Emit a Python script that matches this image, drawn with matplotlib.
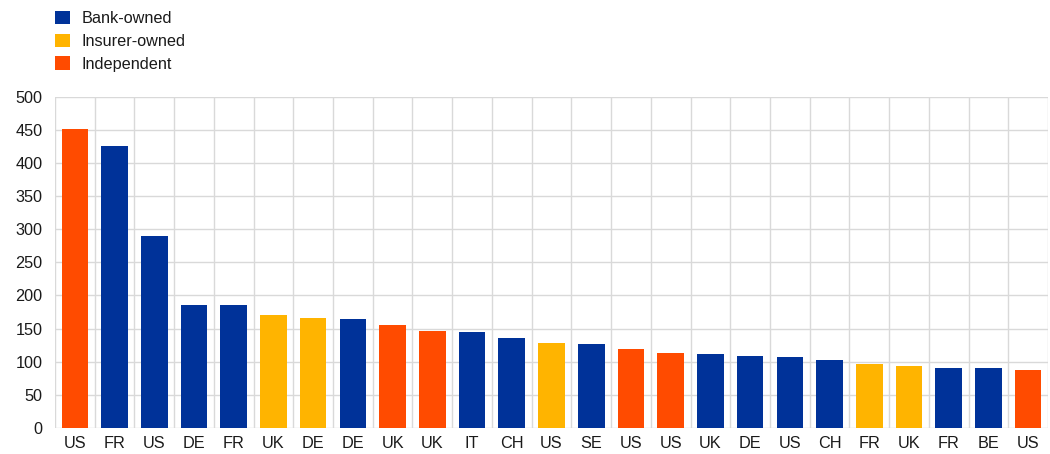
import matplotlib
matplotlib.use("Agg")
import matplotlib.pyplot as plt
from matplotlib.patches import Patch
import numpy as np

plt.rcParams['font.family'] = ['Liberation Sans', 'DejaVu Sans']

countries = ["US", "FR", "US", "DE", "FR", "UK", "DE", "DE", "UK", "UK", "IT", "CH", "US",
             "SE", "US", "US", "UK", "DE", "US", "CH", "FR", "UK", "FR", "BE", "US"]
values = [451, 425, 290, 186, 185, 171, 166, 164, 156, 147, 145, 136, 128,
          127, 119, 113, 111, 108, 107, 103, 97, 94, 91, 91, 88]
ownership = ["Independent", "Bank-owned", "Bank-owned", "Bank-owned", "Bank-owned",
             "Insurer-owned", "Insurer-owned", "Bank-owned", "Independent", "Independent",
             "Bank-owned", "Bank-owned", "Insurer-owned", "Bank-owned", "Independent",
             "Independent", "Bank-owned", "Bank-owned", "Bank-owned", "Bank-owned",
             "Insurer-owned", "Insurer-owned", "Bank-owned", "Bank-owned", "Independent"]
groups = ["Bank-owned", "Insurer-owned", "Independent"]
colors = {"Bank-owned": "#003299", "Insurer-owned": "#FFB400", "Independent": "#FF4B00"}
yticks = [0, 50, 100, 150, 200, 250, 300, 350, 400, 450, 500]

fs = 11.7
fig = plt.figure(figsize=(10.5, 4.54), dpi=100)
ax = fig.add_axes([55 / 1050, 1 - 428 / 454, (1048 - 55) / 1050, (428 - 96.7) / 454])

x = np.arange(len(values))
ax.bar(x, values, width=0.67, color=[colors[o] for o in ownership], zorder=3)

ax.set_xlim(-0.5, len(values) - 0.5)
ax.set_ylim(0, 500)
ax.set_yticks(yticks)
ax.set_xticks(x)
ax.set_xticklabels(countries)
ax.set_xticks(np.arange(-0.5, len(values), 1.0), minor=True)

ax.grid(axis='y', which='major', color='#d9d9d9', linewidth=1.0, zorder=0)
ax.grid(axis='x', which='minor', color='#d9d9d9', linewidth=1.0, zorder=0)
ax.grid(axis='x', which='major', visible=False)
for s in ax.spines.values():
    s.set_visible(False)
ax.tick_params(axis='both', which='both', length=0, labelsize=fs, colors='#1a1a1a')
ax.tick_params(axis='x', pad=6)
ax.tick_params(axis='y', pad=9)

handles = [Patch(facecolor=colors[g], edgecolor='none') for g in groups]
leg = fig.legend(handles, groups, loc='upper left', bbox_to_anchor=(55 / 1050, 1 - 11 / 454),
                 frameon=False, fontsize=fs, handlelength=0.9, handleheight=0.9,
                 handletextpad=0.75, labelspacing=0.45, borderpad=0, borderaxespad=0)
for t in leg.get_texts():
    t.set_color('#1a1a1a')

fig.savefig("out.png", dpi=100)
